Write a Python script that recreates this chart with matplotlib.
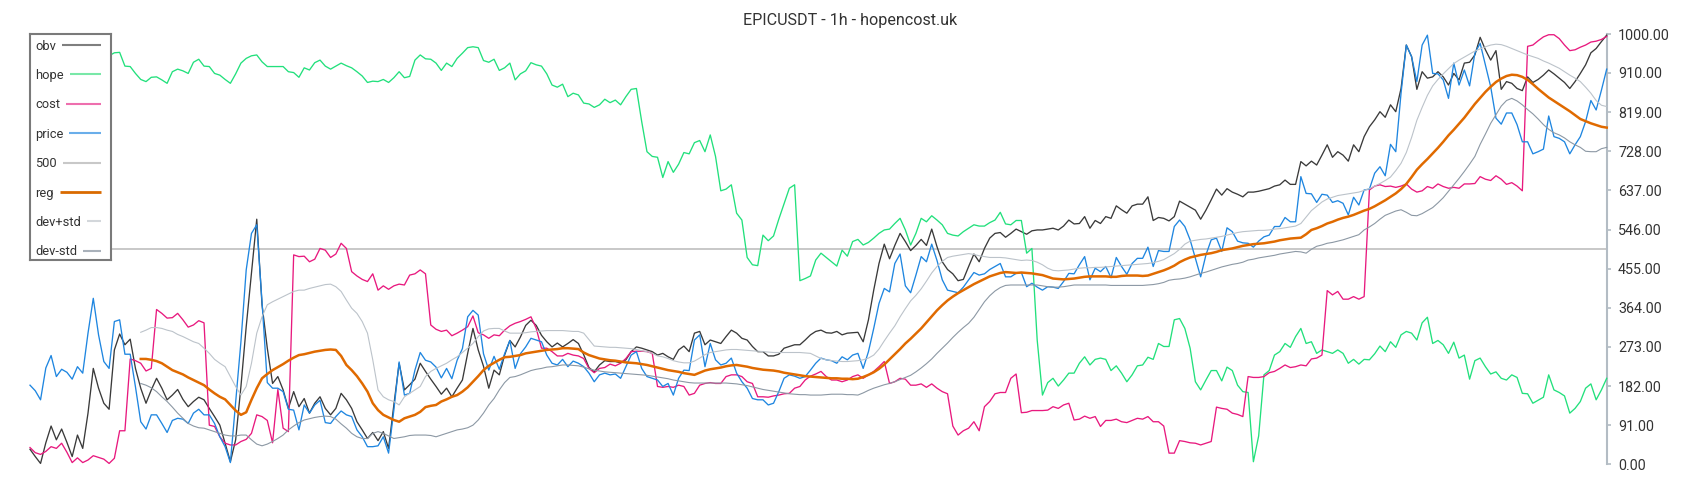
import numpy as np
import matplotlib
matplotlib.use("Agg")
import matplotlib.pyplot as plt
from matplotlib.lines import Line2D

plt.rcParams['font.family'] = ['Roboto', 'DejaVu Sans']

title = "EPICUSDT - 1h - hopencost.uk"
tick_values = [0, 91, 182, 273, 364, 455, 546, 637, 728, 819, 910, 1000]
tick_labels = [f"{v:.2f}" for v in tick_values]
level_500 = 500
NA = np.nan

price = [
    184, 171, 150, 224, 253, 204, 221, 214, 198, 227, 212, 305, 386, 301, 239, 223, 332, 336, 256, 256, 180, 99, 82, 115, 115,
    95, 74, 102, 107, 105, 95, 119, 128, 115, 115, 95, 64, 41, 4, 145, 285, 452, 537, 557, 378, 190, 177, 177, 169, 128, 126, 80,
    138, 119, 138, 149, 97, 95, 111, 124, 115, 111, 80, 64, 41, 41, 43, 64, 26, 126, 238, 161, 165, 219, 260, 242, 238, 226, 201,
    223, 199, 242, 269, 343, 358, 347, 257, 219, 251, 221, 257, 288, 223, 257, 273, 293, 289, 285, 254, 235, 231, 244, 227, 240, 235,
    227, 212, 192, 208, 212, 208, 210, 200, 227, 254, 262, 223, 204, 200, 196, 181, 188, 161, 200, 219, 218, 289, 301, 227, 281, 243,
    231, 235, 247, 212, 192, 177, 153, 150, 150, 138, 142, 169, 200, 208, 205, 200, 204, 219, 235, 247, 243, 241, 235, 250, 243, 254, 258,
    223, 262, 316, 374, 409, 401, 467, 489, 415, 399, 440, 483, 471, 512, 474, 429, 405, 402, 399, 412, 429, 446, 440, 443, 453, 460,
    467, 436, 436, 444, 446, 413, 421, 412, 405, 413, 412, 409, 425, 444, 443, 464, 483, 429, 456, 448, 460, 434, 481, 460, 442, 467, 479,
    479, 505, 460, 497, 495, 495, 553, 568, 553, 522, 479, 436, 487, 522, 526, 495, 550, 541, 519, 515, 514, 505, 519, 529, 533, 553,
    553, 574, 564, 564,
    669, 630, 629, 609, 628, 626, 609, 613, 607, 580, 621, 603, 638, 640, 677, 692, 671, 744, 727, 863, 975, 948, 890, 975, 998, 909,
    908, 894, 851, 933, 882, 917, 880, 956, 979, 929,
    878, 805, 791, 817, 817, 790, 750, 750, 722, 727, 733, 810, 762, 758, 750, 722, 743, 762, 797, 846, 824, 870, 919,
]

obv = [
    35, 18, 2, 50, 89, 57, 82, 51, 18, 68, 37, 119, 223, 177, 142, 128, 266, 303, 278, 291, 223, 177, 142, 173, 200,
    177, 150, 161, 174, 151, 134, 146, 156, 150, 130, 111, 91, 49, 6, 57, 181, 320, 444, 570, 371, 270, 188, 204, 173, 130, 169, 134,
    153, 119, 142, 157, 130, 115, 130, 165, 150, 130, 99, 80, 60, 74, 55, 76, 37, 138, 235, 173, 185, 198, 235, 216, 198, 181, 163,
    177, 157, 177, 196, 258, 316, 266, 228, 177, 219, 208, 254, 288, 273, 296, 323, 335, 323, 300, 285, 273, 282, 273, 281, 290, 281,
    255, 225, 215, 231, 241, 239, 239, 236, 243, 262, 273, 270, 266, 262, 254, 258, 250,
    244, 266, 275, 262, 305, 309, 278, 289, 285, 281, 297, 312, 305, 293, 289, 274, 262, 262, 252, 252, 256, 270, 274, 278, 278, 289,
    301, 309, 312, 306, 305, 309, 301, 305, 306, 307,
    285, 336, 405, 467, 512, 478, 509, 537, 518, 497, 509, 523, 509, 547, 506, 471, 453, 443, 427, 430, 460, 489, 471, 502, 526, 537,
    539, 528, 537, 547, 541, 535, 543, 545, 545, 547, 549, 545, 554, 568, 559, 560, 576, 549, 567, 560, 576, 572, 601, 592, 584, 601, 605,
    605, 622, 567, 574, 572, 566, 576, 612, 605, 598, 591, 570, 591, 615, 640, 626, 641, 633, 628, 622, 633, 633, 635, 638, 641, 647,
    650, 661, 651, 651,
    704, 694, 705, 696, 719, 743, 714, 727, 719, 705, 743, 727, 762, 785, 801, 820, 807, 836, 820, 874, 975, 948, 872, 913, 898, 901,
    913, 901, 882, 909, 894, 933, 935, 952, 993, 964,
    940, 962, 872, 890, 886, 874, 869, 901, 888, 895, 905, 917, 908, 898, 888, 874, 890, 909, 929, 957, 967, 983, 998,
]

cost = [
    39, 27, 23, 30, 41, 37, 49, 28, 4, 15, 4, 10, 20, 16, 12, 2, 14, 78, 78, 245, 241, 235, 217, 223, 360,
    351, 340, 341, 351, 336, 319, 324, 334, 329, 91, 88, 64, 49, 45, 45, 53, 58, 72, 115, 111, 102, 50, 174, 84, 76, 487, 483,
    484, 471, 477, 502, 498, 481, 489, 514, 502, 448, 438, 430, 425, 443, 405, 415, 407, 415, 419, 417, 440, 443, 452, 443, 324, 314,
    309, 312, 299, 305, 312, 320, 345, 306, 301, 293, 301, 299, 312, 322, 328, 332, 337, 343, 316, 270, 270, 262, 252, 252, 258, 254, 252,
    246, 223, 213, 223, 225, 233, 229, 235, 246, 262, 263, 263, 262, 258,
    181, 179, 181, 179, 184, 181, 161, 165, 184, 188, 190, 188, 188, 204, 208, 208, 204, 192, 188, 157, 157, 156, 159, 161, 164, 165,
    177, 181, 196, 205, 210, 216, 204, 196, 196, 192, 196, 204, 208,
    200, 208, 216, 227, 239, 188, 192, 200, 198, 184, 184, 187, 179, 187, 177, 169, 164, 89, 68, 78, 84, 99, 78, 134, 146, 164,
    167, 167, 200, 210, 120, 121, 125, 125, 125, 126, 134, 130, 138, 142, 103, 105, 112, 107, 111, 88, 102, 102, 105, 99, 97, 102, 107,
    105, 111, 99, 99, 89, 26, 26, 55, 53, 50, 49, 45, 49, 53, 133, 130, 128, 119, 116, 111, 204, 202, 202, 204, 213, 216, 223, 231,
    225, 227,
    231, 229, 245, 247, 254, 404, 394, 402, 384, 384, 390, 384, 390,
    638, 647, 650, 646, 647, 644, 647, 652, 640, 633, 636, 646, 642, 652, 646, 642, 644, 642, 652, 652, 653, 669, 663,
    660, 671, 663, 651, 655, 647, 636,
    972, 975, 985, 994, 999, 999, 990, 975, 962, 964, 970, 975, 982, 984, 988, 995,
]

hope = [NA] * 15 + [
    950,
    957, 958, 926, 925, 909, 895, 890, 900, 901, 894, 886, 913, 919, 915, 909, 935, 942, 926, 925, 909, 905, 895, 886, 908, 933, 944,
    950, 952, 936, 925, 925, 925, 925, 913, 911, 900,
    922, 917, 934, 940, 926, 919, 926, 933, 927, 922, 913, 903, 888, 891, 890, 895, 888, 899, 913, 899, 902, 940, 952, 943, 942, 933,
    916, 933, 925, 944, 956, 969, 971, 969, 939, 935, 942, 916, 922, 933, 894, 908, 915, 934, 929, 926, 908, 882, 877, 884, 855, 863, 859,
    840, 838, 830, 836, 849, 841, 847, 836, 855, 872, 874, 797, 727, 716, 714, 667, 704, 679, 698, 725, 722, 748, 753, 727, 766, 716,
    636, 640, 650, 584, 568, 481, 464, 462, 533, 520, 531, 570, 606, 642, 650, 427, 432, 438, 475, 491, 481, 471, 461, 498, 484, 518, 523,
    510, 516, 526, 537, 545, 547, 560, 572, 545, 510, 537, 572, 564, 578, 568, 557, 537, 533, 531, 541, 549, 557, 554, 554, 562, 568,
    586, 559, 557, 567, 567, 491, 502, 289, 161, 190, 200, 182, 196, 212, 212, 235, 250, 231, 244, 247, 244, 218, 229, 212, 192, 208, 229,
    231, 249, 244, 281, 274, 274, 336, 339, 316, 270, 192, 173, 196, 218, 218, 194, 226, 218, 184, 169, 167, 6, 66, 208, 218, 254,
    262, 281, 272, 297,
    316, 281, 285, 258, 266, 262, 258, 266, 258, 235, 244, 233, 244, 243, 257, 275, 262, 285, 272,
    301, 309, 305, 289, 329, 342, 281, 288, 278, 258, 284, 247, 254, 198, 241, 247, 227, 210, 215, 200, 196, 208, 202, 165, 164, 142,
    149, 156, 208, 173, 167, 159, 119, 130, 146, 177, 187, 150, 173, 200,
]

reg = [NA] * 21 + [
    245, 245, 243, 240, 235, 227, 219, 214, 209, 202, 196, 190, 184, 174, 165, 157, 151, 138, 125, 115, 121, 150, 177, 200, 210, 219,
    226, 233, 241, 248, 254,
    256, 259, 262, 264, 266, 267, 266, 252, 231, 219, 205, 188, 169, 142, 126, 115, 109, 103, 99, 107, 111, 115, 122, 133, 136, 138,
    146, 151, 157, 161, 169, 179, 192, 205, 219, 229, 236, 243, 249, 250, 252, 254, 258, 260, 262, 264, 266, 267, 268, 270, 270, 269, 268,
    260, 254, 250, 246, 244, 242, 241, 239, 237, 236, 235, 233, 231, 228, 225, 222, 219, 217, 215, 212, 210, 208, 213, 218, 221, 223,
    225, 228, 230, 231, 229, 227, 224, 222, 220, 219, 218, 216, 213, 211, 209, 207, 205, 204, 203, 202, 201, 200, 200, 199, 199, 198, 199,
    203, 208, 214, 222, 232, 244, 256, 268, 281, 292, 304, 316, 330, 344, 358, 370, 381, 390, 398, 405, 412, 419, 425, 431, 437, 441,
    445, 447, 446, 445, 446, 445, 444, 442, 440, 436, 432, 431, 430, 431, 432, 434, 436, 437, 437, 437, 437, 436, 436, 438, 439, 439, 439,
    438, 439, 443, 447, 451, 456, 462, 470, 476, 481, 484, 487, 489, 491, 494, 498, 500, 502, 505, 508, 510, 512, 513, 514, 516, 518,
    521, 523, 525, 526, 527, 535,
    545, 549, 554, 560, 564, 569, 573, 576, 580, 585, 590, 594, 600, 607, 614, 622, 630, 640, 652, 668,
    685, 698, 710, 723, 736, 750, 765, 778, 792, 806, 822, 838, 852, 866, 878, 889, 897, 903, 906, 905, 901, 894, 884, 873, 863, 853,
    845, 837, 829, 821, 812, 803, 798, 793, 789, 785, 783,
]

dev_plus = [NA] * 21 + [
    307, 312, 318, 318, 316, 312, 309, 302, 297, 291, 285, 281, 270, 258, 244, 235, 227, 204, 181, 161, 181, 235, 305, 343, 371, 378,
    384, 390, 396, 402, 405,
    405, 409, 412, 415, 418, 419, 413, 402, 382, 363, 351, 332, 305, 243, 173, 157, 150, 146, 138, 157, 165, 173, 181, 204, 216, 223,
    229, 235, 243, 250, 260, 270, 281, 297, 310, 315, 316, 316, 310, 305, 305, 305, 306, 308, 309, 310, 311, 311, 311, 311, 310, 309, 309,
    305, 290, 275, 274, 273, 272, 272, 271, 270, 269, 267, 264, 262, 258, 252, 250, 246, 241, 238, 236, 236, 240, 247, 255, 260, 262,
    264, 266, 267, 267, 266, 265, 264, 263, 262, 261, 260, 260, 260, 260, 260, 260, 259, 258, 252, 246, 243, 241, 240, 239, 239, 240, 241,
    243, 247, 254, 268, 287, 305, 322, 343, 362, 380, 393, 408, 426, 445, 460, 472, 481, 484, 486, 488, 490, 488, 485, 483, 481, 481,
    481, 480, 478, 476, 474, 475, 474, 470, 464, 456, 451, 450, 451, 452, 454, 456, 457, 457, 458, 458, 459, 460, 461, 462, 463, 464, 465,
    466, 467, 469, 472, 476, 483, 490, 500, 512, 519, 521, 523, 524, 526, 528, 530, 533, 536, 539, 541, 542, 543, 544, 544, 545, 547,
    548, 550, 552, 554,
    560, 575, 590, 600, 610, 617, 621, 625, 627, 629, 631, 633, 637, 641, 647, 653, 660, 668, 683, 700, 725, 760, 800, 830, 858, 880,
    895, 908, 920, 932, 940, 947, 954,
    961, 966, 971, 975, 977, 976, 972, 967, 962, 957, 952, 948, 944, 938, 933, 927, 921, 913, 905, 898, 890, 877, 863, 846, 835, 832,
]

dev_minus = [NA] * 21 + [
    188, 184, 178, 169, 157, 146, 133, 119, 107, 95, 89, 85, 84, 80, 76, 72, 68, 66, 66, 68, 68, 57, 47, 43, 47, 53, 60, 68, 80, 89, 97,
    103, 106, 109, 111, 112, 111, 105, 94, 84, 72, 64, 60, 60, 72, 76, 72, 66, 60, 62, 64, 67, 68, 68, 68, 67, 64, 68, 72, 76, 80,
    82, 85, 91, 103, 119, 138, 153, 173, 190, 202, 204, 208, 213, 218, 221, 223, 226, 227, 229, 231, 231, 230, 229,
    226, 222, 219, 217, 215, 214, 213, 212, 211, 210, 209, 208, 207, 205, 203, 201, 199, 196, 194, 192, 190, 189, 189, 189, 189, 189,
    189, 189, 188, 187, 185, 183, 180, 177, 174, 172, 170, 168, 166, 164, 163, 162, 162, 161, 161, 161, 162, 163, 163, 163, 162, 162, 161,
    166, 172, 177, 181, 185, 188, 192, 197, 202, 207, 215, 224, 234, 245, 258, 270, 282, 295, 307, 318, 328, 342, 360, 378, 392, 403,
    411, 416, 417, 417, 417, 417, 417, 417, 415, 413, 412, 412, 413, 415, 417, 417, 417, 417, 417, 417, 417, 416, 416, 416, 416, 416, 416,
    416, 417, 418, 420, 423, 428, 430, 431, 433, 436, 440, 444, 447, 451, 455, 459, 462, 465, 467, 470, 475, 477, 480, 482, 484, 486,
    489, 491, 493, 495, 494, 491, 500, 507, 510, 514, 516, 519, 522, 526, 530, 534,
    545, 552, 560, 570, 579, 584, 589, 592, 586, 579, 578, 583, 590, 597, 608, 620, 635, 650, 665, 681, 698, 716, 744, 768,
    793, 813, 833, 846, 851, 845, 836, 825, 815, 803, 790, 779, 771, 766, 759, 750, 743, 737, 728, 727, 727, 734, 737,
]

# styles: (label, values, plot colour, plot width, legend colour, legend width)
lines = [
    ("obv", obv, "#3a3a3a", 0.95, "#7f7f7f", 1.5),
    ("hope", hope, "#22e07c", 0.95, "#79e8a8", 1.5),
    ("cost", cost, "#e8197e", 0.95, "#ee6fae", 1.5),
    ("price", price, "#1f86e0", 0.95, "#6aaeea", 1.5),
    ("500", None, "#c8c8c8", 1.4, "#c8c8c8", 1.5),
    ("reg", reg, "#e06a00", 1.8, "#d96a00", 2.0),
    ("dev+std", dev_plus, "#bcc3ca", 0.8, "#d3d7db", 1.5),
    ("dev-std", dev_minus, "#8c98a4", 0.8, "#a9b1ba", 1.5),
]

W, H = 1700, 500
fig = plt.figure(figsize=(W / 100, H / 100), dpi=100)
ax = fig.add_axes([30 / W, (H - 464.3) / H, (1606.7 - 30) / W, 430 / H])

for label, vals, col, lw, _, _ in lines:
    if vals is None:
        ax.axhline(level_500, color=col, lw=lw, zorder=2)
        continue
    y = np.array(vals, dtype=float)
    ax.plot(np.arange(len(y)), y, color=col, lw=lw, clip_on=False, zorder=3)

ax.set_xlim(0, 299)
ax.set_ylim(0, 1000)
ax.set_xticks([])
ax.yaxis.tick_right()
ax.set_yticks(tick_values)
ax.set_yticklabels(tick_labels)
for s in ("top", "left", "bottom"):
    ax.spines[s].set_visible(False)
ax.spines["right"].set_color("#b3bcc4")
ax.spines["right"].set_linewidth(1.5)
ax.tick_params(axis="y", colors="#b3bcc4", labelcolor="#333333", length=3.2,
               width=1.2, pad=5, labelsize=10.3)
ax.set_facecolor("none")

fig.text(0.5, 1 - 20.5 / H, title, ha="center", va="center", fontsize=11.6, color="#333333")

# legend box (drawn by hand: label text left, sample line to the right)
lax = fig.add_axes([30 / W, (H - 260) / H, 81 / W, 226 / H])
lax.set_zorder(10)
lax.set_xlim(0, 81)
lax.set_ylim(226, 0)
lax.set_xticks([])
lax.set_yticks([])
lax.set_facecolor("white")
for s in lax.spines.values():
    s.set_color("#7a7a7a")
    s.set_linewidth(1.5)

fig.canvas.draw()
renderer = fig.canvas.get_renderer()
inv = lax.transData.inverted()
for k, (label, _, _, _, lcol, llw) in enumerate(lines):
    yy = 11 + 29.4 * k
    t = lax.text(5, yy + 4.6, label, ha="left", va="baseline", fontsize=9.3, color="#333333")
    bb = t.get_window_extent(renderer)
    x0 = inv.transform((bb.x1 + 6, 0))[0]
    lax.add_line(Line2D([x0, 71], [yy, yy], color=lcol, lw=llw, solid_capstyle="butt"))

fig.savefig("out.png", dpi=100)
